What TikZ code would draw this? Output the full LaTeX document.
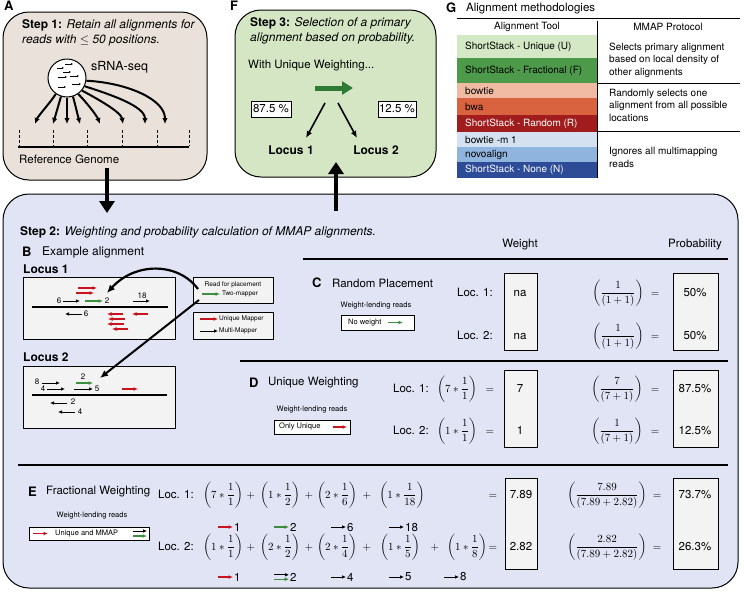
\documentclass[tikz,border=0pt]{standalone}
\usepackage{amsmath}
\usepackage{fontspec}
\setmainfont{TeX Gyre Heros}
\usetikzlibrary{arrows.meta,calc}
\definecolor{stepone}{HTML}{EAE2DA}
\definecolor{stepthree}{HTML}{D4E6C4}
\definecolor{steptwo}{HTML}{E0E4F4}
\definecolor{boxgray}{HTML}{F3F3F3}
\definecolor{redread}{HTML}{C8141E}
\definecolor{greenread}{HTML}{3E8E41}
\definecolor{blockgreen}{HTML}{2E7A34}
\definecolor{gU}{HTML}{D4E8C5}
\definecolor{gF}{HTML}{4E9A4B}
\definecolor{rB}{HTML}{F1BBA3}
\definecolor{rW}{HTML}{D9623F}
\definecolor{rR}{HTML}{A11D1D}
\definecolor{bB}{HTML}{D4E1F1}
\definecolor{bN}{HTML}{8FB4DD}
\definecolor{bS}{HTML}{2D4B97}
\newcommand{\wterm}[2]{\left(#1\ast\dfrac{1}{#2}\right)}
\newcommand{\pterm}[2]{\left(\dfrac{#1}{(#2)}\right)}
\tikzset{
  panel/.style={draw=black, line width=1pt, rounded corners=26pt},
  grbox/.style={draw=black, line width=0.8pt, fill=boxgray},
  wbox/.style={draw=black, line width=0.8pt, fill=white},
  rulebar/.style={line width=2.4pt},
  steptxt/.style={anchor=west, font=\fontsize{12}{14}\selectfont, inner sep=0pt},
  lbl/.style={font=\fontsize{11.5}{13.5}\selectfont, inner sep=0pt},
  boldlbl/.style={font=\fontsize{12}{14}\selectfont\bfseries, inner sep=0pt},
  mth/.style={font=\fontsize{11}{13}\selectfont, inner sep=0pt, anchor=base},
  mlbl/.style={font=\fontsize{11.5}{13.5}\selectfont, inner sep=0pt, anchor=base},
  panlbl/.style={anchor=west, font=\fontsize{13}{15}\selectfont\bfseries, inner sep=0pt},
  bigarrow/.style={line width=4pt, -{Triangle[length=12pt,width=15pt]}},
  seqarrow/.style={line width=2pt, -{Latex[length=6pt,width=5.5pt]}},
  blackread/.style={line width=1pt, -{Latex[length=4pt,width=3.6pt]}},
  redarr/.style={line width=1.3pt, color=redread, -{Latex[length=4.5pt,width=4pt]}},
  greenarr/.style={line width=1.2pt, color=greenread, -{Latex[length=4.5pt,width=4pt]}},
  tinytxt/.style={font=\fontsize{6.5}{7.5}\selectfont, inner sep=0pt},
  smalltxt/.style={font=\fontsize{7.5}{9}\selectfont, inner sep=0pt},
  numtxt/.style={font=\fontsize{8}{9}\selectfont, inner sep=0pt},
  tabtxt/.style={font=\fontsize{10}{12.5}\selectfont, inner sep=0pt},
}
\begin{document}
\begin{tikzpicture}[x=1pt,y=-1pt]
\useasboundingbox (0,0) rectangle (744,592);
% ---------------- panels
\draw[panel, fill=steptwo] (3,194) rectangle (738,588);
\draw[panel, fill=stepone] (3,12) rectangle (207,180);
\draw[panel, fill=stepthree] (235,10) rectangle (436,177);

% ---------------- Step 1
\node[panlbl] (labA) at (4,6) {A};
\node[steptxt] (s1a) at (22,25) {\textbf{Step 1:} \textit{Retain all alignments for}};
\node[steptxt] (s1b) at (22,40) {\textit{reads with $\leq$ 50 positions.}};
\node[circle, draw, fill=white, line width=1pt, minimum size=38pt, inner sep=0pt] (seq) at (67,78) {};
\foreach \a/\b/\c in {57/64/68, 65/73/64, 58/67/77, 70/79/76, 72/81/84, 58/66/87, 63/71/72}
  \draw[line width=0.7pt, -{Latex[length=2pt,width=2pt]}] (\a,\c) -- (\b,\c);
\node[anchor=west, inner sep=0pt, font=\fontsize{12.5}{14}\selectfont] (seqlbl) at (91,67) {sRNA-seq};
\coordinate (g0) at (18,147); \coordinate (g1) at (189,147);
\draw[line width=2pt] (g0) -- (g1);
\foreach \x in {19,53,87,122,157,189}
  \draw[line width=0.9pt, dash pattern=on 3pt off 2pt] (\x,130) -- (\x,146);
\coordinate (t1) at (35,124); \coordinate (t2) at (53,124); \coordinate (t3) at (67,124);
\coordinate (t4) at (80,124); \coordinate (t5) at (100,124); \coordinate (t6) at (123,124);
\coordinate (t7) at (145,124); \coordinate (t8) at (165,124);
\draw[seqarrow] (seq.-125) .. controls +(-5,8) and +(3,-8) .. (t1);
\draw[seqarrow] (seq.-108) -- (t2);
\draw[seqarrow] (seq.-90) -- (t3);
\draw[seqarrow] (seq.-72) -- (t4);
\draw[seqarrow] (seq.-55) .. controls +(8,8) and +(-3,-8) .. (t5);
\draw[seqarrow] (seq.-40) .. controls +(15,8) and +(-2,-12) .. (t6);
\draw[seqarrow] (seq.-25) .. controls +(25,8) and +(0,-18) .. (t7);
\draw[seqarrow] (seq.-8) .. controls +(40,2) and +(0,-25) .. (t8);
\node[lbl, anchor=west] (refg) at (19,159) {Reference Genome};
\coordinate (a1s) at (107,168); \coordinate (a1e) at (107,213);
\draw[bigarrow] (a1s) -- (a1e);

% ---------------- Step 3
\node[panlbl] (labF) at (230,6) {F};
\node[steptxt] (s3a) at (250,23) {\textbf{Step 3:} \textit{Selection of a primary}};
\node[steptxt] (s3b) at (250,38) {\textit{alignment based on probability.}};
\node[lbl, anchor=west] (uw) at (248,66) {With Unique Weighting...};
\coordinate (gs) at (315,88); \coordinate (ge) at (353,88);
\draw[line width=5pt, draw=blockgreen, -{Triangle[length=11pt,width=13pt]}] (gs) -- (ge);
\node[wbox, lbl, minimum width=40pt, minimum height=16pt] (pc1) at (271,109) {87.5 \%};
\node[wbox, lbl, minimum width=38pt, minimum height=16pt] (pc2) at (397,109) {12.5 \%};
\node[boldlbl] (loc1) at (291,150) {Locus 1};
\node[boldlbl] (loc2) at (376,150) {Locus 2};
\coordinate (f1) at (325,103); \coordinate (f1e) at (306,138);
\coordinate (f2) at (338,103); \coordinate (f2e) at (357,138);
\draw[line width=1.6pt, -{Latex[length=7pt,width=6pt]}] (f1) -- (f1e);
\draw[line width=1.6pt, -{Latex[length=7pt,width=6pt]}] (f2) -- (f2e);
\coordinate (a2s) at (336,211); \coordinate (a2e) at (336,162);
\draw[bigarrow] (a2s) -- (a2e);

% ---------------- Table G
\node[panlbl] (labG) at (446,8) {G};
\node[lbl, anchor=west] (gtitle) at (466,9) {Alignment methodologies};
\draw[line width=0.8pt] (457,18) -- (740,18);
\node[tabtxt] (h1) at (527,27) {Alignment Tool};
\node[tabtxt] (h2) at (668,27) {MMAP Protocol};
\fill[gU] (457,35) rectangle (597,58);
\fill[gF] (457,58) rectangle (597,83);
\fill[rB] (457,83) rectangle (597,98);
\fill[rW] (457,98) rectangle (597,115);
\fill[rR] (457,115) rectangle (597,132);
\fill[bB] (457,132) rectangle (597,147);
\fill[bN] (457,147) rectangle (597,162);
\fill[bS] (457,162) rectangle (597,178);
\node[tabtxt, anchor=west] at (465,47) {ShortStack - Unique (U)};
\node[tabtxt, anchor=west] at (465,71) {ShortStack - Fractional (F)};
\node[tabtxt, anchor=west] at (465,90.5) {bowtie};
\node[tabtxt, anchor=west] at (465,106.5) {bwa};
\node[tabtxt, anchor=west, text=white] at (465,123.5) {ShortStack - Random (R)};
\node[tabtxt, anchor=west] at (465,139.5) {bowtie -m 1};
\node[tabtxt, anchor=west] at (465,154.5) {novoalign};
\node[tabtxt, anchor=west, text=white] at (465,170) {ShortStack - None (N)};
\draw[line width=0.8pt] (597,21) -- (597,178);
\draw[line width=0.8pt] (597,83) -- (740,83);
\draw[line width=0.8pt] (597,131) -- (740,131);
\node[tabtxt, anchor=west, align=left] at (609,60) {Selects primary alignment\\based on local density of\\other alignments};
\node[tabtxt, anchor=west, align=left] at (609,105) {Randomly selects one\\alignment from all possible\\locations};
\node[tabtxt, anchor=west, align=left] at (609,157.5) {Ignores all multimapping\\reads};

% ---------------- Step 2 header
\node[steptxt] (s2) at (20,232) {\textbf{Step 2:} \textit{Weighting and probability calculation of MMAP alignments.}};

% ---------------- B
\node[panlbl] (labB) at (22,252) {B};
\node[anchor=west, inner sep=0pt, font=\fontsize{12}{14}\selectfont] at (42,252) {Example alignment};
\node[boldlbl, anchor=west] at (23,269) {Locus 1};
\draw[grbox] (23,277) rectangle (175,339);
\draw[line width=2.5pt] (32,307) -- (168,307);
\draw[redarr] (78,288) -- (97,288);
\draw[redarr] (76,293) -- (94,293);
\node[numtxt] (n6a) at (59,301) {6};
\draw[blackread] (63,301) -- (80,301);
\draw[greenarr] (85,301) -- (103,301);
\node[numtxt] (n2a) at (107,301) {2};
\node[numtxt] (n18) at (142,296) {18};
\draw[blackread] (133,301) -- (150,301);
\draw[blackread] (82,314) -- (65,314);
\node[numtxt] (n6b) at (86,314) {6};
\draw[redarr] (123,314) -- (107,314);
\draw[redarr] (148,314) -- (132,314);
\draw[redarr] (125,319) -- (108,319);
\draw[redarr] (124,324) -- (107,324);
\draw[redarr] (128,329) -- (112,329);
% legend boxes
\draw[grbox] (193,277) rectangle (273,303);
\node[tinytxt] at (233,285) {Read for placement};
\draw[greenarr] (202,294) -- (220,294);
\node[tinytxt, anchor=west] at (222,294) {Two-mapper};
\draw[grbox] (193,312) rectangle (273,339);
\draw[redarr] (200,319) -- (218,319);
\node[tinytxt, anchor=west] at (219,319) {Unique Mapper};
\draw[blackread] (200,331) -- (218,331);
\node[tinytxt, anchor=west] at (219,331) {Multi-Mapper};
% locus 2
\node[boldlbl, anchor=west] at (23,357) {Locus 2};
\draw[grbox] (23,366) rectangle (175,428);
\draw[line width=2.5pt] (32,395) -- (167,395);
\node[numtxt] at (37,382) {8};
\draw[blackread] (42,383) -- (60,383);
\node[numtxt] at (43,389) {4};
\draw[blackread] (47,389) -- (65,389);
\node[numtxt] at (83,377) {2};
\draw[greenarr] (76,383) -- (93,383);
\draw[blackread] (74,389) -- (93,389);
\node[numtxt] at (97,389) {5};
\draw[redarr] (122,389) -- (138,389);
\draw[blackread] (67,403) -- (50,403);
\node[numtxt] at (73,402) {2};
\draw[blackread] (75,412) -- (58,412);
\node[numtxt] at (80,412) {4};
% placement arrows
\coordinate (cs) at (198,289); \coordinate (ce) at (107,293);
\draw[line width=2.2pt, -{Latex[length=8pt,width=7pt]}] (cs) .. controls (178,262) and (135,262) .. (ce);
\coordinate (ss) at (199,300); \coordinate (se) at (100,378);
\draw[line width=2pt, -{Latex[length=8pt,width=7pt]}] (ss) -- (se);

% ---------------- rules and headers
\draw[rulebar] (303,259) -- (728,259);
\draw[rulebar] (240,361) -- (728,361);
\draw[rulebar] (18,465) -- (728,465);
\node[lbl] at (520,245) {Weight};
\node[lbl] at (695,245) {Probability};

% ---------------- C
\node[panlbl] at (312,283) {C};
\node[lbl, anchor=west] at (332,283) {Random Placement};
\node[smalltxt] at (376,306) {Weight-lending reads};
\draw[wbox] (341,315) rectangle (414,330);
\node[smalltxt, anchor=west] (nw) at (348,322.5) {No weight};
\draw[greenarr] (388,322.5) -- (403,322.5);
\draw[grbox] (504,273) rectangle (537,350);
\draw[grbox] (673,273) rectangle (718,350);
\node[mlbl, anchor=base west] at (457,296) {Loc. 1:};
\node[mlbl, anchor=base west] at (457,339) {Loc. 2:};
\node[mlbl] at (520,296) {na};
\node[mlbl] at (520,339) {na};
\node[mth] at (618,296) {$\pterm{1}{1+1}$};
\node[mth] at (618,339) {$\pterm{1}{1+1}$};
\node[mth] at (655,296) {$=$};
\node[mth] at (655,339) {$=$};
\node[mlbl] at (695,296) {50$\%$};
\node[mlbl] at (695,339) {50$\%$};

% ---------------- D
\node[panlbl] at (249,383) {D};
\node[lbl, anchor=west] at (268,383) {Unique Weighting};
\node[smalltxt] at (312,410) {Weight-lending reads};
\draw[wbox] (274,420) rectangle (350,434);
\node[smalltxt, anchor=west] at (279,427) {Only Unique};
\draw[redarr] (333,427) -- (347,427);
\draw[grbox] (504,370) rectangle (537,447);
\draw[grbox] (673,370) rectangle (718,447);
\node[mlbl, anchor=base west] at (393,392) {Loc. 1:};
\node[mlbl, anchor=base west] at (393,434) {Loc. 2:};
\node[mth] at (457,392) {$\wterm{7}{1}$};
\node[mth] at (457,434) {$\wterm{1}{1}$};
\node[mth] at (490,392) {$=$};
\node[mth] at (490,434) {$=$};
\node[mlbl] at (520,392) {7};
\node[mlbl] at (520,434) {1};
\node[mth] at (617,392) {$\pterm{7}{7+1}$};
\node[mth] at (617,434) {$\pterm{1}{7+1}$};
\node[mth] at (655,392) {$=$};
\node[mth] at (655,434) {$=$};
\node[mlbl] at (695,392) {87.5$\%$};
\node[mlbl] at (695,434) {12.5$\%$};

% ---------------- E
\node[panlbl] at (28,492) {E};
\node[lbl, anchor=west] at (46,492) {Fractional Weighting};
\node[smalltxt] at (92,516) {Weight-lending reads};
\draw[wbox] (29,527) rectangle (149,540);
\draw[redarr] (33,533.5) -- (48,533.5);
\node[smalltxt, anchor=west] at (55,533.5) {Unique and MMAP};
\draw[blackread] (133,531) -- (147,531);
\draw[greenarr] (133,536) -- (147,536);
\draw[grbox] (505,478) rectangle (537,569);
\draw[grbox] (673,478) rectangle (718,569);
\node[mlbl, anchor=base west] at (158,498) {Loc. 1:};
\node[mlbl, anchor=base west] at (158,550) {Loc. 2:};
% loc 1 terms
\node[mth] at (223,498) {$\wterm{7}{1}$};
\node[mth] at (251,498) {$+$};
\node[mth] at (280,498) {$\wterm{1}{2}$};
\node[mth] at (309,498) {$+$};
\node[mth] at (337,498) {$\wterm{2}{6}$};
\node[mth] at (367,498) {$+$};
\node[mth] at (402,498) {$\wterm{1}{18}$};
% loc 2 terms
\node[mth] at (223,550) {$\wterm{1}{1}$};
\node[mth] at (251,550) {$+$};
\node[mth] at (280,550) {$\wterm{2}{2}$};
\node[mth] at (309,550) {$+$};
\node[mth] at (337,550) {$\wterm{2}{4}$};
\node[mth] at (367,550) {$+$};
\node[mth] at (400,550) {$\wterm{1}{5}$};
\node[mth] at (435,550) {$+$};
\node[mth] at (467,550) {$\wterm{1}{8}$};
\node[mth] at (493,498) {$=$};
\node[mth] at (493,550) {$=$};
\node[mlbl] at (521,498) {7.89};
\node[mlbl] at (521,550) {2.82};
\node[mth] at (607,498) {$\pterm{7.89}{7.89+2.82}$};
\node[mth] at (607,550) {$\pterm{2.82}{7.89+2.82}$};
\node[mth] at (657,498) {$=$};
\node[mth] at (657,550) {$=$};
\node[mlbl] at (695,498) {73.7$\%$};
\node[mlbl] at (695,550) {26.3$\%$};
% arrow labels loc 1
\node[lbl, anchor=west] (a11) at (234,527) {1};
\draw[redarr] ([xshift=-16pt]a11.west) -- ([xshift=-1pt]a11.west);
\node[lbl, anchor=west] (a12) at (290,527) {2};
\draw[greenarr] ([xshift=-16pt]a12.west) -- ([xshift=-1pt]a12.west);
\node[lbl, anchor=west] (a13) at (347,527) {6};
\draw[blackread] ([xshift=-16pt]a13.west) -- ([xshift=-1pt]a13.west);
\node[lbl, anchor=west] (a14) at (405,527) {18};
\draw[blackread] ([xshift=-16pt]a14.west) -- ([xshift=-1pt]a14.west);
% arrow labels loc 2
\node[lbl, anchor=west] (a21) at (234,577) {1};
\draw[redarr] ([xshift=-16pt]a21.west) -- ([xshift=-1pt]a21.west);
\node[lbl, anchor=west] (a22) at (290,577) {2};
\draw[blackread] ([xshift=-16pt,yshift=2.2pt]a22.west) -- ([xshift=-1pt,yshift=2.2pt]a22.west);
\draw[greenarr] ([xshift=-16pt,yshift=-2.2pt]a22.west) -- ([xshift=-1pt,yshift=-2.2pt]a22.west);
\node[lbl, anchor=west] (a23) at (347,577) {4};
\draw[blackread] ([xshift=-16pt]a23.west) -- ([xshift=-1pt]a23.west);
\node[lbl, anchor=west] (a24) at (405,577) {5};
\draw[blackread] ([xshift=-16pt]a24.west) -- ([xshift=-1pt]a24.west);
\node[lbl, anchor=west] (a25) at (460,577) {8};
\draw[blackread] ([xshift=-16pt]a25.west) -- ([xshift=-1pt]a25.west);
\end{tikzpicture}
\end{document}
